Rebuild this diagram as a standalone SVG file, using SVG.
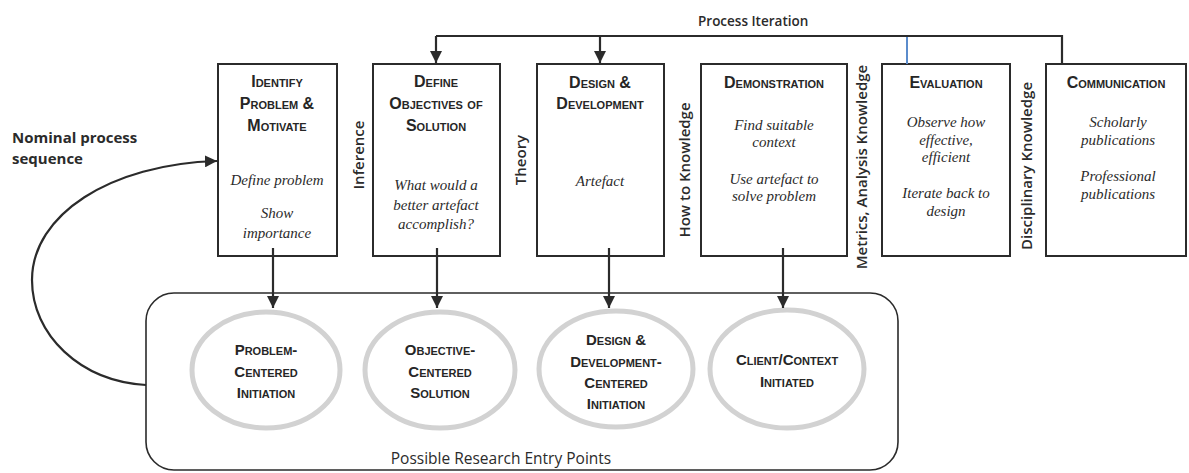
<svg xmlns="http://www.w3.org/2000/svg" width="1189" height="473" viewBox="0 0 1189 473">
  <defs>
    <marker id="arrow" viewBox="0 0 10 10" refX="10" refY="5" markerWidth="12" markerHeight="12" markerUnits="userSpaceOnUse" orient="auto">
      <path d="M0,0 L10,5 L0,10 z" fill="#2b2b2b"/>
    </marker>
    <style>
      .box { fill: #ffffff; stroke: #2b2b2b; stroke-width: 2; }
      .line { fill: none; stroke: #2b2b2b; stroke-width: 2.2; }
      .entry { fill: #ffffff; stroke: #d2d2d2; stroke-width: 5; }
      .title { font-family: "Liberation Sans", Arial, sans-serif; font-weight: bold; font-size: 16px; font-variant: small-caps; fill: #262626; text-anchor: middle; }
      .etitle { font-family: "Liberation Sans", Arial, sans-serif; font-weight: bold; font-size: 15px; font-variant: small-caps; fill: #262626; text-anchor: middle; }
      .step { font-family: "Liberation Serif", "Times New Roman", serif; font-style: italic; font-size: 15px; fill: #2b2b2b; text-anchor: middle; }
      .know { font-family: "Open Sans", "Liberation Sans", sans-serif; font-weight: 600; font-size: 15px; fill: #2b2b2b; text-anchor: middle; }
      .label { font-family: "Open Sans", "Liberation Sans", sans-serif; font-weight: 600; font-size: 14px; fill: #2b2b2b; }
    </style>
  </defs>

  <text class="label" x="698" y="26" style="font-size:13.5px">Process Iteration</text>
  <text class="label" x="12" y="143" style="font-weight:700;font-size:15px">Nominal process</text>
  <text class="label" x="12" y="164" style="font-weight:700;font-size:15px">sequence</text>

  <!-- knowledge labels between activities -->
  <text class="know" transform="translate(364,155) rotate(-90)">Inference</text>
  <text class="know" transform="translate(526,160) rotate(-90)">Theory</text>
  <text class="know" transform="translate(690,170) rotate(-90)">How to Knowledge</text>
  <text class="know" transform="translate(867,167) rotate(-90)">Metrics, Analysis Knowledge</text>
  <text class="know" transform="translate(1032,166) rotate(-90)">Disciplinary Knowledge</text>

  <!-- activities -->
  <g id="identify">
    <rect class="box" x="218" y="64" width="119" height="192"/>
    <text class="title" x="277" y="87">Identify</text>
    <text class="title" x="277" y="109">Problem &amp;</text>
    <text class="title" x="277" y="131">Motivate</text>
    <text class="step" x="277" y="185">Define problem</text>
    <text class="step" x="277" y="218">Show</text>
    <text class="step" x="277" y="238">importance</text>
  </g>
  <g id="objectives">
    <rect class="box" x="373" y="64" width="127" height="192"/>
    <text class="title" x="436" y="87">Define</text>
    <text class="title" x="436" y="109">Objectives of</text>
    <text class="title" x="436" y="131">Solution</text>
    <text class="step" x="436" y="190">What would a</text>
    <text class="step" x="436" y="210">better artefact</text>
    <text class="step" x="436" y="229">accomplish?</text>
  </g>
  <g id="design">
    <rect class="box" x="537" y="64" width="127" height="192"/>
    <text class="title" x="600" y="88">Design &amp;</text>
    <text class="title" x="600" y="109">Development</text>
    <text class="step" x="600" y="186">Artefact</text>
  </g>
  <g id="demonstration">
    <rect class="box" x="701" y="64" width="146" height="192"/>
    <text class="title" x="774" y="88">Demonstration</text>
    <text class="step" x="774" y="130">Find suitable</text>
    <text class="step" x="774" y="147">context</text>
    <text class="step" x="774" y="184">Use artefact to</text>
    <text class="step" x="774" y="201">solve problem</text>
  </g>
  <g id="evaluation">
    <rect class="box" x="882" y="64" width="128" height="192"/>
    <text class="title" x="946" y="88">Evaluation</text>
    <text class="step" x="946" y="127">Observe how</text>
    <text class="step" x="946" y="145">effective,</text>
    <text class="step" x="946" y="162">efficient</text>
    <text class="step" x="946" y="198">Iterate back to</text>
    <text class="step" x="946" y="216">design</text>
  </g>
  <g id="communication">
    <rect class="box" x="1046" y="64" width="140" height="192"/>
    <text class="title" x="1116" y="88">Communication</text>
    <text class="step" x="1118" y="127">Scholarly</text>
    <text class="step" x="1118" y="145">publications</text>
    <text class="step" x="1118" y="181">Professional</text>
    <text class="step" x="1118" y="199">publications</text>
  </g>

  <!-- research entry points -->
  <g id="entry-points">
    <rect class="box" x="146" y="293" width="752" height="177" rx="28" ry="28" style="stroke-width:1.6"/>
    <text class="label" x="501" y="464" style="font-weight:400;font-size:15.5px;text-anchor:middle">Possible Research Entry Points</text>
  </g>
  <g id="problem-centered">
    <ellipse class="entry" cx="266" cy="370" rx="74" ry="58"/>
    <text class="etitle" x="266" y="355">Problem-</text>
    <text class="etitle" x="266" y="377">Centered</text>
    <text class="etitle" x="266" y="398">Initiation</text>
  </g>
  <g id="objective-centered">
    <ellipse class="entry" cx="440" cy="370" rx="75" ry="58"/>
    <text class="etitle" x="440" y="355">Objective-</text>
    <text class="etitle" x="440" y="377">Centered</text>
    <text class="etitle" x="440" y="398">Solution</text>
  </g>
  <g id="design-centered">
    <ellipse class="entry" cx="616" cy="369" rx="77" ry="58"/>
    <text class="etitle" x="616" y="345">Design &amp;</text>
    <text class="etitle" x="616" y="367">Development-</text>
    <text class="etitle" x="616" y="388">Centered</text>
    <text class="etitle" x="616" y="409">Initiation</text>
  </g>
  <g id="client-initiated">
    <ellipse class="entry" cx="787" cy="369" rx="77" ry="59"/>
    <text class="etitle" x="787" y="365">Client/Context</text>
    <text class="etitle" x="787" y="387">Initiated</text>
  </g>

  <!-- iteration loop and entry-point connectors -->
  <g id="connectors">
    <path class="line" d="M436,36 H1062 V64"/>
    <path class="line" d="M436,36 V63" marker-end="url(#arrow)"/>
    <path class="line" d="M600,36 V63" marker-end="url(#arrow)"/>
    <path d="M907,37 V64" fill="none" stroke="#5b8ccc" stroke-width="2"/>
    <path class="line" d="M273,248 V308" marker-end="url(#arrow)"/>
    <path class="line" d="M437,248 V308" marker-end="url(#arrow)"/>
    <path class="line" d="M609,248 V308" marker-end="url(#arrow)"/>
    <path class="line" d="M783,248 V308" marker-end="url(#arrow)"/>
    <path class="line" d="M146,385 C80,381 32,335 32,280 C32,215 110,164 217,161" marker-end="url(#arrow)"/>
  </g>
</svg>
